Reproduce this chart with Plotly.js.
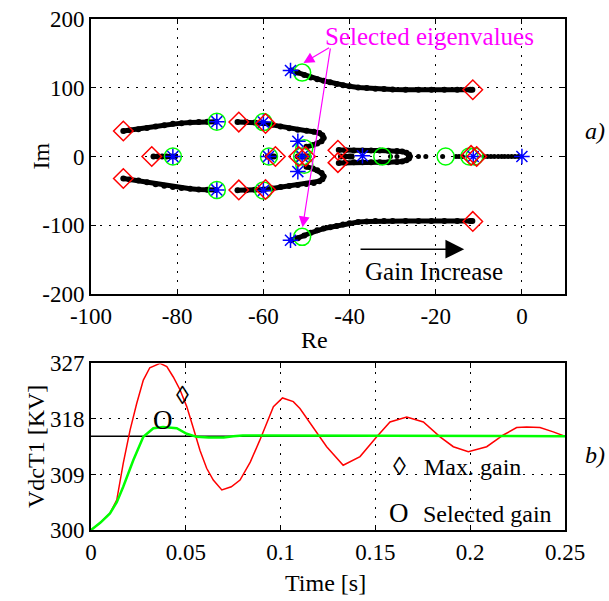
<!DOCTYPE html>
<html><head><meta charset="utf-8">
<script src="https://cdn.plot.ly/plotly-3.0.1.min.js"></script>
<style>html,body{margin:0;padding:0;background:#fff}#chart{width:609px;height:601px}</style>
</head><body><div id="chart"></div>
<script>
// ---------- Root locus (top) ----------
const reUpperFar = [-53.5,-52,-50.5,-49,-47.5,-46,-44.5,-43,-41.5,-40,-38,-36,-34,-32,-30,-27,-24,-21,-18,-15,-12,-11.5];
const imUpperFar = [125,122,118.5,115,112.5,110,108,105.5,103.5,102,100.5,99.5,98.5,98,97.5,97,97,97,97,97,97,97];
const reLowerFar = [-53.5,-52,-50.5,-49,-47.5,-46,-44.5,-43,-41.5,-40,-38,-36,-34,-32,-30,-27,-24,-21,-18,-15,-12,-11.5];
const imLowerFar = [-122,-119,-115,-111,-107.5,-105,-103,-101,-99,-97,-95.5,-94.5,-94,-94,-94,-94,-94,-94,-94,-94,-94,-94];
const reLeftUp = [-92.5,-91,-89,-87,-85,-83,-81,-79,-77,-75,-73,-71];
const imLeftUp = [37,38,39.5,41.5,43.5,45.5,47.5,48.5,49.5,50,50.5,50.5];
const reLeftLo = [-92.5,-91,-89,-87,-85,-83,-81,-79,-77,-75,-73,-71];
const imLeftLo = [-32,-33.5,-35,-37.5,-40.5,-42.5,-44.5,-46,-47,-48,-48.5,-48.7];
const reUUp = [-66,-64,-62,-60,-58,-56,-54,-52,-50,-48.3,-47,-46.3,-46,-46.5,-47.5,-48.5,-50];
const imUUp = [50,50,49.5,48.5,46,43.5,41,39,37.5,36,34,31,27,22,19,16.5,14];
const reULo = [-66,-64,-62,-60,-58,-56,-54,-52,-50,-48.3,-47,-46.3,-46,-46.5,-47.5,-48.5,-50];
const imULo = [-49,-49,-48.5,-48,-46.5,-44.5,-43,-41.5,-40,-38.5,-36,-33,-29,-24,-20,-17.5,-15];
const reAxisA = [-85.5,-84.5,-83.5,-82.5,-81.5,-80.5];
const reAxisB = [-59,-58.5,-58,-57.5];
const reAxisC = [-52,-51.5,-51,-50.5,-50,-49.5];
const reAxisD = [-42,-41,-40,-39.5];
const reOval = [-42.5,-41,-39,-37,-35,-33,-31,-29,-27.8,-26.8,-26.2,-26,-26.2,-26.8,-27.8,-29,-31,-33,-35,-37,-39,-41,-42.5];
const imOval = [9.5,9,8.5,8.5,8.5,8.5,8.3,8,7.2,5.5,3,0,-3,-5.5,-7.2,-8,-8.3,-8.5,-8.5,-8.5,-8.5,-9,-9.5];
const reDots = [-30.5,-29,-24,-22.3,-18.4,-15.3,-14.6,-13.8,-8.8,-8,-7.2,-6.4,-5.5,-4.7,-4,-3.2,-2.4,-1.6,-0.8];

const reStar = [-53.7,-53.7,-70.8,-70.8,-60,-60,-81,-58.8,-52,-52,-51,-37,-11.3,0];
const imStar = [125,-122,50.6,-48.7,50,-49.5,0,0,22,-22,0,1,0,0];
const reCircle = [-51,-51,-70.8,-70.8,-60,-60,-81,-58.7,-51,-50.5,-50.5,-32.4,-17.7,-12.2,-11];
const imCircle = [122,-117,50.6,-48.7,50,-49.5,0,0,0,12,-12,0,0,0,0];
const reDiamond = [-11.4,-11.4,-92.5,-92.5,-65.7,-65.7,-59.5,-59.5,-85.9,-57.2,-51.8,-50.2,-42.7,-42.7,-11.8,-10.5];
const imDiamond = [97,-94.5,37,-32,50,-48.7,48,-48,0,0,0,0,9,-9,1.5,0];

// ---------- Time response (bottom) ----------
const tMax = [0,0.005,0.01,0.0136,0.017,0.0206,0.0241,0.0276,0.031,0.0364,0.040,0.0434,0.047,0.0505,0.054,0.0575,0.061,0.0645,0.069,0.074,0.0786,0.084,0.0891,0.0962,0.101,0.1067,0.1102,0.1172,0.1243,0.133,0.1419,0.1507,0.1577,0.1665,0.1753,0.1841,0.1911,0.199,0.2087,0.2175,0.2245,0.2298,0.2368,0.2438,0.25];
const vMax = [300,301.2,302.7,304.9,310.8,316.2,320.5,324.3,326.3,327,326.5,324.8,322.7,320,316.5,312.9,310,308.1,306.5,307,308.1,311,314.6,320,321.4,320.8,319.7,316.7,313.5,310.5,311.9,315.1,317.5,318.3,317.5,315.1,313.5,312.7,313.5,315.4,316.6,316.7,316.6,315.9,315.2];
const tSel = [0,0.005,0.01,0.0136,0.017,0.0223,0.0276,0.0329,0.038,0.0452,0.0505,0.0557,0.062,0.07,0.075,0.08,0.09,0.1,0.105,0.12,0.15,0.2,0.25];
const vSel = [300,301.2,302.7,304.5,307,311.3,315.1,316.5,316.7,316.5,315.6,315.1,315,315,315.2,315.3,315.3,315.3,315.2,315.2,315.2,315.2,315.2];
const tRef = [0,0.25];
const vRef = [315.2,315.2];

const xTicks1 = [-100,-80,-60,-40,-20,0];
const xTickText1 = ["-100","-80","-60","-40","-20","0"];
const yTicks1 = [200,100,0,-100,-200];
const yTickText1 = ["200","100","0","-100","-200"];
const xTicks2 = [0,0.05,0.1,0.15,0.2,0.25];
const xTickText2 = ["0","0.05","0.1","0.15","0.2","0.25"];
const yTicks2 = [300,309,318,327];

const FONT = "Liberation Serif, Times New Roman, serif";
const zeros = a => a.map(() => 0);

function locus(x, y, mode) {
  return {x: x, y: y, xaxis: 'x', yaxis: 'y', type: 'scatter', mode: mode || 'lines+markers',
    line: {color: '#000', width: 5}, marker: {color: '#000', size: 6}, hoverinfo: 'skip', showlegend: false};
}

const traces = [
  locus(reUpperFar, imUpperFar), locus(reLowerFar, imLowerFar),
  locus(reLeftUp, imLeftUp), locus(reLeftLo, imLeftLo),
  locus(reUUp, imUUp), locus(reULo, imULo),
  locus(reAxisA, zeros(reAxisA)), locus(reAxisB, zeros(reAxisB)),
  locus(reAxisC, zeros(reAxisC)), locus(reAxisD, zeros(reAxisD)),
  locus(reOval, imOval),
  Object.assign(locus(reDots, zeros(reDots), 'markers'), {marker: {color: '#000', size: 5}}),
  {x: reCircle, y: imCircle, xaxis: 'x', yaxis: 'y', type: 'scatter', mode: 'markers',
   marker: {symbol: 'circle-open', size: 17, color: '#00ff00', line: {width: 1.5, color: '#00ff00'}}, showlegend: false},
  {x: reStar, y: imStar, xaxis: 'x', yaxis: 'y', type: 'scatter', mode: 'markers',
   marker: {symbol: 'asterisk-open', size: 13, color: '#0000ff', line: {width: 1.5, color: '#0000ff'}}, showlegend: false},
  {x: reDiamond, y: imDiamond, xaxis: 'x', yaxis: 'y', type: 'scatter', mode: 'markers',
   marker: {symbol: 'diamond-open', size: 15, color: '#ff0000', line: {width: 1.5, color: '#ff0000'}}, showlegend: false},
  {x: tRef, y: vRef, xaxis: 'x2', yaxis: 'y2', type: 'scatter', mode: 'lines', line: {color: '#000', width: 1.5}, showlegend: false},
  {x: tMax, y: vMax, xaxis: 'x2', yaxis: 'y2', type: 'scatter', mode: 'lines', line: {color: '#ff0000', width: 1.5}, showlegend: false},
  {x: tSel, y: vSel, xaxis: 'x2', yaxis: 'y2', type: 'scatter', mode: 'lines', line: {color: '#00ff00', width: 2.5}, showlegend: false}
];

const axBase = {
  showgrid: true, gridcolor: '#000', gridwidth: 1, griddash: '2px,7px', zeroline: false,
  showline: true, linecolor: '#000', linewidth: 2, mirror: 'ticks', ticks: 'inside', ticklen: 5,
  tickcolor: '#000', tickwidth: 1, tickfont: {family: FONT, size: 23, color: '#000'}, tickmode: 'array'
};

const px = p => (p - 91) / 474;
const py = p => (530 - p) / 511;

const layout = {
  width: 609, height: 601, paper_bgcolor: '#fff', plot_bgcolor: '#fff',
  margin: {l: 91, r: 44, t: 19, b: 71}, showlegend: false,
  font: {family: FONT, color: '#000'},
  xaxis: Object.assign({}, axBase, {domain: [0, 1], range: [-100, 10], anchor: 'y', tickvals: xTicks1, ticktext: xTickText1}),
  yaxis: Object.assign({}, axBase, {domain: [0.462, 1], range: [-200, 200], anchor: 'x', tickvals: yTicks1, ticktext: yTickText1}),
  xaxis2: Object.assign({}, axBase, {domain: [0, 1], range: [0, 0.25], anchor: 'y2', tickvals: xTicks2, ticktext: xTickText2}),
  yaxis2: Object.assign({}, axBase, {domain: [0, 0.326], range: [300, 327], anchor: 'x2', tickvals: yTicks2}),
  annotations: [
    {xref: 'x', yref: 'y', x: -50.7, y: 136, axref: 'x', ayref: 'y', ax: -44.4, ay: 159.3, text: '', showarrow: true,
     arrowcolor: '#ff00ff', arrowwidth: 1.2, arrowhead: 2, arrowsize: 1.8},
    {xref: 'x', yref: 'y', x: -50.9, y: -103, axref: 'x', ayref: 'y', ax: -44.4, ay: 159.3, text: '', showarrow: true,
     arrowcolor: '#ff00ff', arrowwidth: 1.2, arrowhead: 2, arrowsize: 1.8},
    {xref: 'x', yref: 'y', x: -21.5, y: 175, text: 'Selected eigenvalues', showarrow: false,
     font: {family: FONT, size: 25, color: '#ff00ff'}, xanchor: 'center', yanchor: 'middle'},
    {xref: 'x', yref: 'y', x: -13.4, y: -135, axref: 'x', ayref: 'y', ax: -37.8, ay: -135, text: '', showarrow: true,
     arrowcolor: '#000', arrowwidth: 1.5, arrowhead: 2, arrowsize: 2.5},
    {xref: 'x', yref: 'y', x: -20.5, y: -168, text: 'Gain Increase', showarrow: false,
     font: {family: FONT, size: 25, color: '#000'}, xanchor: 'center', yanchor: 'middle'},
    {xref: 'paper', yref: 'paper', x: px(40), y: py(156.5), text: 'Im', textangle: -90, showarrow: false,
     font: {family: FONT, size: 24, color: '#000'}, xanchor: 'center', yanchor: 'middle'},
    {xref: 'paper', yref: 'paper', x: px(314), y: py(340), text: 'Re', showarrow: false,
     font: {family: FONT, size: 24, color: '#000'}, xanchor: 'center', yanchor: 'middle'},
    {xref: 'paper', yref: 'paper', x: px(36), y: py(447), text: 'VdcT1 [KV]', textangle: -90, showarrow: false,
     font: {family: FONT, size: 24, color: '#000'}, xanchor: 'center', yanchor: 'middle'},
    {xref: 'paper', yref: 'paper', x: px(325), y: py(583), text: 'Time [s]', showarrow: false,
     font: {family: FONT, size: 24, color: '#000'}, xanchor: 'center', yanchor: 'middle'},
    {xref: 'paper', yref: 'paper', x: px(595), y: py(131), text: '<i>a)</i>', showarrow: false,
     font: {family: FONT, size: 24, color: '#000'}, xanchor: 'center', yanchor: 'middle'},
    {xref: 'paper', yref: 'paper', x: px(595), y: py(455), text: '<i>b)</i>', showarrow: false,
     font: {family: FONT, size: 24, color: '#000'}, xanchor: 'center', yanchor: 'middle'},
    {xref: 'x2', yref: 'y2', x: 0.0484, y: 321.8, text: '\u25CA', showarrow: false,
     font: {family: FONT, size: 26, color: '#000'}, xanchor: 'center', yanchor: 'middle'},
    {xref: 'x2', yref: 'y2', x: 0.038, y: 317.8, text: 'O', showarrow: false,
     font: {family: FONT, size: 27, color: '#000'}, xanchor: 'center', yanchor: 'middle'},
    {xref: 'x2', yref: 'y2', x: 0.1627, y: 310.3, text: '\u25CA', showarrow: false,
     font: {family: FONT, size: 26, color: '#000'}, xanchor: 'center', yanchor: 'middle'},
    {xref: 'x2', yref: 'y2', x: 0.1745, y: 310.2, text: 'Max. gain', showarrow: false,
     font: {family: FONT, size: 24, color: '#000'}, xanchor: 'left', yanchor: 'middle'},
    {xref: 'x2', yref: 'y2', x: 0.1624, y: 302.8, text: 'O', showarrow: false,
     font: {family: FONT, size: 27, color: '#000'}, xanchor: 'center', yanchor: 'middle'},
    {xref: 'x2', yref: 'y2', x: 0.174, y: 302.6, text: 'Selected gain', showarrow: false,
     font: {family: FONT, size: 24, color: '#000'}, xanchor: 'left', yanchor: 'middle'}
  ]
};

Plotly.newPlot('chart', traces, layout, {displayModeBar: false, staticPlot: true});
</script></body></html>
